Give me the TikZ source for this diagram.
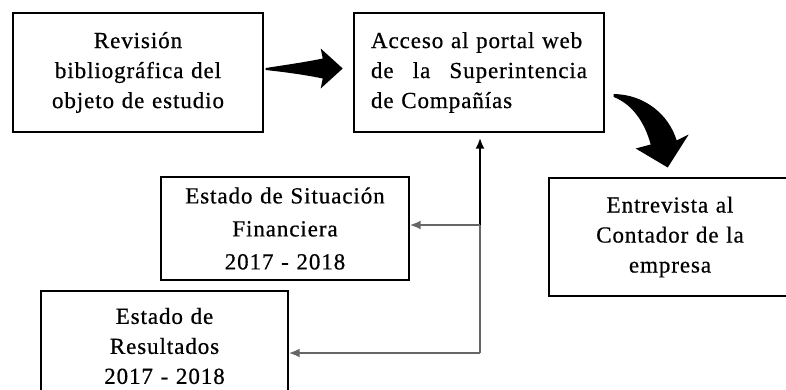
\documentclass[tikz,border=0pt]{standalone}
\usepackage{fontspec}
\setmainfont[LetterSpace=4,FakeBold=0.6]{Liberation Serif}
\usetikzlibrary{arrows.meta}

\tikzset{
	caja/.style = {draw, line width=1.4pt, inner sep=0pt, font=\fontsize{23}{30}\selectfont},
	linea/.style = {line width=2pt},
	punta/.style = {-{Latex[length=11pt,width=9pt]}}
}

\begin{document}
\begin{tikzpicture}[x=1pt,y=-1pt]
		\useasboundingbox (0,0) rectangle (786,389);
		\clip (0,0) rectangle (786,389);

		% cajas
		\node[caja, minimum width=250pt, minimum height=119pt, text width=230pt, align=center]
			(rev) at (138,72.5) {Revisión\\bibliográfica del\\objeto de estudio};
		\node[caja, minimum width=250pt, minimum height=119pt, text width=216pt, align=left]
			(acc) at (479,72.5) {Acceso al portal web\\de\hfill la\hfill Superintencia\\de Compañías};
		\node[caja, minimum width=248pt, minimum height=103pt, text width=228pt, align=center, font=\fontsize{23}{33}\selectfont]
			(sit) at (285,228.5) {Estado de Situación\\Financiera\\2017 - 2018};
		\node[caja, minimum width=247pt, minimum height=110pt, text width=227pt, align=center]
			(res) at (164.5,346) {Estado de\\Resultados\\2017 - 2018};
		\node[caja, minimum width=242pt, minimum height=118pt, text width=222pt, align=center]
			(ent) at (670,237) {Entrevista al\\Contador de la\\empresa};

		% flechas gruesas
		\fill[shift={(rev.east)}]
			(2,-4.5) .. controls (25,-8) and (45,-11) .. (59,-14) -- (57,-24)
			-- (79,-4) -- (57,16) -- (59,6) .. controls (45,3) and (25,0) .. (2,-2.5) -- cycle;
		\fill[shift={(acc.east)}]
			(9,21.5) .. controls (40,22) and (64,42) .. (72,68) -- (84,62)
			-- (63,95) -- (31,76) -- (46,72) .. controls (40,50) and (28,32) .. (9,24.5) -- cycle;

		% lineas
		\coordinate (j1) at (480,225);
		\coordinate (j2) at (480,353);
		\draw[linea, black!60] (j2) -- (j1);
		\draw[linea, line width=2.4pt, punta, shorten >=5pt] (j1) -- (j1 |- acc.south);
		\draw[linea, punta, black!60] (j1) -- (j1 -| sit.east);
		\draw[linea, punta, black!60] (j2) -- (j2 -| res.east);
	\end{tikzpicture}
\end{document}
